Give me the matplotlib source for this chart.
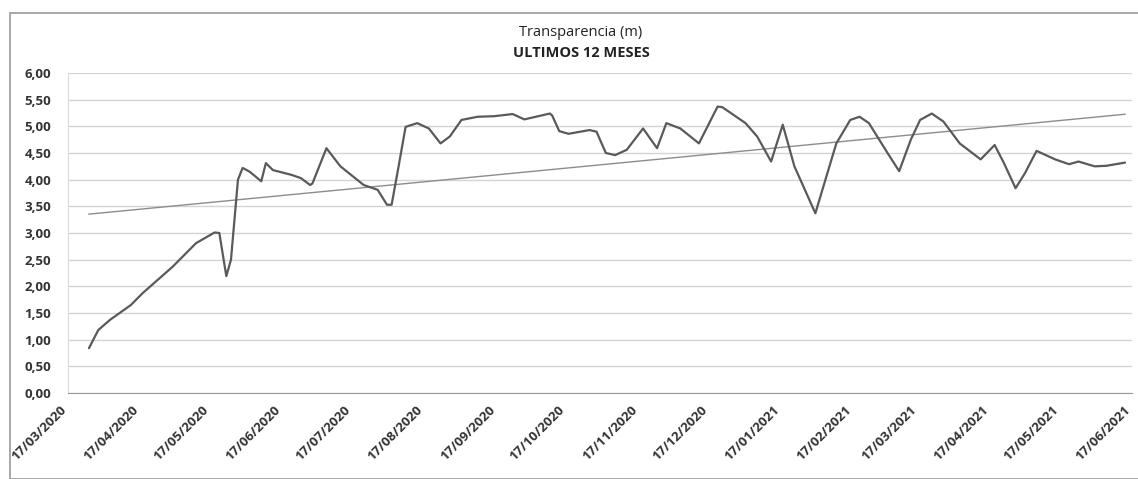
import datetime

import numpy as np

import matplotlib  # isort: skip

matplotlib.use("Agg")

import matplotlib.dates as mdates  # isort: skip
import matplotlib.pyplot as plt  # isort: skip
import matplotlib.transforms as mtransforms  # isort: skip
from matplotlib.patches import Rectangle  # isort: skip


TITLE = "Transparencia (m)"
SUBTITLE = "ULTIMOS 12 MESES"

# fechas de muestreo y transparencia (m)
dates = [
    "2020-03-26", "2020-03-30", "2020-04-04", "2020-04-13", "2020-04-18",
    "2020-05-01", "2020-05-11", "2020-05-19", "2020-05-21", "2020-05-24",
    "2020-05-26", "2020-05-29", "2020-05-31", "2020-06-03", "2020-06-08",
    "2020-06-10", "2020-06-13", "2020-06-21", "2020-06-25", "2020-06-29",
    "2020-06-30", "2020-07-06", "2020-07-12", "2020-07-22", "2020-07-28",
    "2020-08-01", "2020-08-03", "2020-08-06", "2020-08-09", "2020-08-14",
    "2020-08-19", "2020-08-24", "2020-08-28", "2020-09-02", "2020-09-09",
    "2020-09-16", "2020-09-24", "2020-09-29", "2020-10-04", "2020-10-10",
    "2020-10-11", "2020-10-14", "2020-10-18", "2020-10-27", "2020-10-30",
    "2020-11-03", "2020-11-07", "2020-11-12", "2020-11-19", "2020-11-25",
    "2020-11-29", "2020-12-05", "2020-12-13", "2020-12-21", "2020-12-23",
    "2021-01-02", "2021-01-07", "2021-01-13", "2021-01-15", "2021-01-18",
    "2021-01-23", "2021-02-01", "2021-02-10", "2021-02-16", "2021-02-20",
    "2021-02-24", "2021-03-04", "2021-03-09", "2021-03-14", "2021-03-18",
    "2021-03-23", "2021-03-28", "2021-04-04", "2021-04-13", "2021-04-19",
    "2021-04-23", "2021-04-28", "2021-05-02", "2021-05-07", "2021-05-15",
    "2021-05-21", "2021-05-25", "2021-06-01", "2021-06-06", "2021-06-14",
]
transparency = [
    0.84, 1.18, 1.37, 1.65, 1.87,
    2.37, 2.81, 3.01, 3.00, 2.19,
    2.50, 4.00, 4.22, 4.15, 3.97,
    4.31, 4.18, 4.09, 4.03, 3.90,
    3.93, 4.59, 4.25, 3.90, 3.81,
    3.53, 3.53, 4.25, 4.99, 5.06,
    4.96, 4.68, 4.81, 5.12, 5.18,
    5.19, 5.23, 5.13, 5.18, 5.24,
    5.20, 4.91, 4.86, 4.93, 4.90,
    4.50, 4.46, 4.56, 4.96, 4.59,
    5.06, 4.96, 4.68, 5.37, 5.36,
    5.06, 4.81, 4.34, 4.62, 5.03,
    4.25, 3.37, 4.68, 5.12, 5.18,
    5.06, 4.50, 4.16, 4.75, 5.12,
    5.24, 5.09, 4.68, 4.38, 4.65,
    4.31, 3.84, 4.12, 4.54, 4.38,
    4.29, 4.34, 4.25, 4.26, 4.32,
]

axis_start = "2020-03-17"
axis_end = "2021-06-17"
y_ticks = np.arange(0, 6.01, 0.5)


def to_dt(s: str) -> datetime.datetime:
    return datetime.datetime.strptime(s, "%Y-%m-%d")


x = [to_dt(d) for d in dates]
xnum = mdates.date2num(x)

plt.rcParams["font.family"] = ["Open Sans", "DejaVu Sans"]

fig = plt.figure(figsize=(11.38, 4.79), dpi=100)
fig.patches.append(
    Rectangle((10 / 1138, 0.0), 1.2, 1 - 13 / 479, transform=fig.transFigure,
              fill=False, edgecolor="#9a9a9a", linewidth=1.2)
)
ax = fig.add_axes([68 / 1138, 1 - 393 / 479, (1132 - 68) / 1138, 320 / 479])

ax.plot(x, transparency, color="#5a5a5a", linewidth=1.6,
        solid_joinstyle="round", solid_capstyle="round", zorder=3)

# linea de tendencia lineal
coef = np.polyfit(xnum, transparency, 1)
tx = np.array([xnum[0], xnum[-1]])
ax.plot(mdates.num2date(tx), np.polyval(coef, tx), color="#8c8c8c",
        linewidth=1.0, zorder=2)

ax.set_ylim(0, 6)
ax.set_yticks(y_ticks)
ax.set_yticklabels([f"{v:.2f}".replace(".", ",") for v in y_ticks])
ax.set_xlim(to_dt(axis_start), to_dt(axis_end))

ticks = []
d = to_dt(axis_start)
while d <= to_dt(axis_end):
    ticks.append(d)
    d = d.replace(year=d.year + (d.month // 12), month=d.month % 12 + 1)
ax.set_xticks(ticks)
ax.set_xticklabels([])

# etiquetas de fecha giradas, un poco a la izquierda de cada marca
lbl_trans = ax.get_xaxis_transform() + mtransforms.ScaledTranslation(
    -8 / 100, -10 / 100, fig.dpi_scale_trans)
for t in ticks:
    ax.text(t, 0, t.strftime("%d/%m/%Y"), transform=lbl_trans, rotation=45,
            ha="right", va="top", rotation_mode="anchor", fontsize=9.5,
            fontweight="bold", color="#333333")

ax.grid(axis="y", color="#d4d4d4", linewidth=1.0)
for side in ["top", "right"]:
    ax.spines[side].set_visible(False)
ax.spines["left"].set_color("#d9d9d9")
ax.spines["bottom"].set_color("#9a9a9a")
ax.tick_params(axis="both", length=0, colors="#333333")
ax.tick_params(axis="y", labelsize=9.5, pad=12)
for lbl in ax.get_yticklabels():
    lbl.set_fontweight("bold")

fig.text(581 / 1138, 1 - 32 / 479, TITLE, ha="center", va="center",
         fontsize=10.5, color="#222222")
fig.text(581 / 1138, 1 - 53 / 479, SUBTITLE, ha="center", va="center",
         fontsize=10.5, fontweight="bold", color="#222222")

fig.savefig("out.png", dpi=100)
